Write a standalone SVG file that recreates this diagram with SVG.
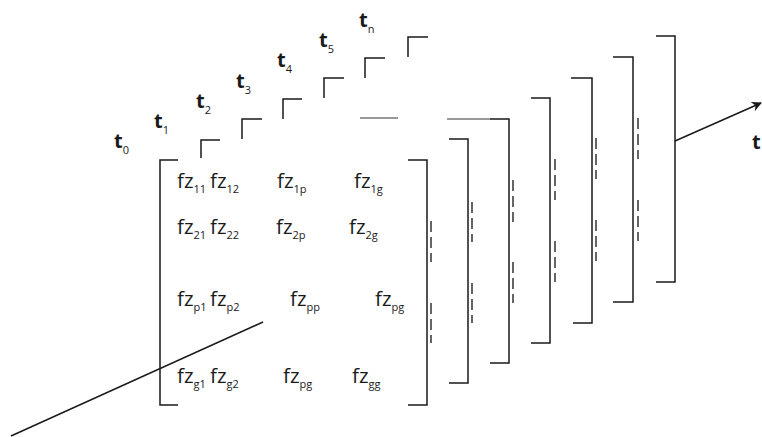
<svg xmlns="http://www.w3.org/2000/svg" width="762" height="437" viewBox="0 0 762 437">
<defs>
<style>
.ln{fill:none;stroke:#1a1a1a;stroke-width:1.5}
.gr{fill:none;stroke:#777;stroke-width:1.5}
.ds{fill:none;stroke:#333;stroke-width:1.5;stroke-dasharray:11 5}
.fz{font-family:"Open Sans","Liberation Sans",sans-serif;font-size:20.5px;fill:#1a1a1a}
.sub{font-size:11px}
.t{font-family:"Open Sans","Liberation Sans",sans-serif;font-size:20px;font-weight:700;fill:#1a1a1a}
.ts{font-size:11px;font-weight:400}
</style>
<marker id="ah" markerWidth="10" markerHeight="10" refX="9" refY="5" orient="auto" markerUnits="userSpaceOnUse" viewBox="0 0 10 10">
<path d="M0,0 L10,5 L0,10 L3,5 Z" fill="#1a1a1a"/>
</marker>
</defs>
<rect width="762" height="437" fill="#fff"/>

<g id="time-labels">
<text class="t" x="114" y="148">t<tspan class="ts" dy="6">0</tspan></text>
<text class="t" x="154" y="128">t<tspan class="ts" dy="6">1</tspan></text>
<text class="t" x="196" y="108">t<tspan class="ts" dy="6">2</tspan></text>
<text class="t" x="236" y="88">t<tspan class="ts" dy="6">3</tspan></text>
<text class="t" x="277" y="67">t<tspan class="ts" dy="6">4</tspan></text>
<text class="t" x="319" y="47">t<tspan class="ts" dy="6">5</tspan></text>
<text class="t" x="359" y="27">t<tspan class="ts" dy="6">n</tspan></text>
<text class="t" x="752" y="149">t</text>
</g>

<g id="frame-corners">
<path class="ln" d="M201,158 V140 H220"/>
<path class="ln" d="M242,139 V119 H262"/>
<path class="ln" d="M283,119 V99 H302"/>
<path class="ln" d="M324,98 V78 H344"/>
<path class="ln" d="M365,78 V58 H385"/>
<path class="ln" d="M408,57 V37 H428"/>
<path class="gr" d="M360,118 H398"/>
</g>

<g id="matrix-t0">
<path class="ln" d="M178,160 H160 V405 H178"/>
<path class="ln" d="M408,160 H427 V405 H408"/>
<path class="ds" d="M431,221 V262 M431,303 V343"/>
<text class="fz" x="177" y="188">fz<tspan class="sub" dy="5">11</tspan></text>
<text class="fz" x="210" y="188">fz<tspan class="sub" dy="5">12</tspan></text>
<text class="fz" x="277" y="188">fz<tspan class="sub" dy="5">1p</tspan></text>
<text class="fz" x="354" y="188">fz<tspan class="sub" dy="5">1g</tspan></text>
<text class="fz" x="177" y="234">fz<tspan class="sub" dy="5">21</tspan></text>
<text class="fz" x="210" y="234">fz<tspan class="sub" dy="5">22</tspan></text>
<text class="fz" x="276" y="234">fz<tspan class="sub" dy="5">2p</tspan></text>
<text class="fz" x="349" y="234">fz<tspan class="sub" dy="5">2g</tspan></text>
<text class="fz" x="177" y="306">fz<tspan class="sub" dy="5">p1</tspan></text>
<text class="fz" x="210" y="306">fz<tspan class="sub" dy="5">p2</tspan></text>
<text class="fz" x="290" y="306">fz<tspan class="sub" dy="5">pp</tspan></text>
<text class="fz" x="375" y="306">fz<tspan class="sub" dy="5">pg</tspan></text>
<text class="fz" x="177" y="383">fz<tspan class="sub" dy="5">g1</tspan></text>
<text class="fz" x="210" y="383">fz<tspan class="sub" dy="5">g2</tspan></text>
<text class="fz" x="283" y="383">fz<tspan class="sub" dy="5">pg</tspan></text>
<text class="fz" x="352" y="383">fz<tspan class="sub" dy="5">gg</tspan></text>
</g>

<g id="matrix-t1">
<path class="ln" d="M449,139 H468 V383 H449"/>
<path class="ds" d="M472,202 V242 M472,283 V323"/>
</g>
<g id="matrix-t2">
<path class="gr" d="M447,119 H490"/>
<path class="ln" d="M490,119 H509 V363 H490"/>
<path class="ds" d="M513,180 V222 M513,262 V303"/>
</g>
<g id="matrix-t3">
<path class="ln" d="M531,98 H550 V343 H531"/>
<path class="ds" d="M555,159 V200 M555,241 V282"/>
</g>
<g id="matrix-t4">
<path class="ln" d="M571,78 H592 V323 H573"/>
<path class="ds" d="M596,138 V179 M596,220 V261"/>
</g>
<g id="matrix-t5">
<path class="ln" d="M613,57 H633 V302 H613"/>
<path class="ds" d="M638,118 V159 M638,200 V241"/>
</g>
<g id="matrix-tn">
<path class="ln" d="M656,36 H675 V282 H656"/>
</g>

<g id="connectors">
<path class="ln" d="M11,436 L263,322"/>
<path class="ln" d="M675,141 L761,103" marker-end="url(#ah)"/>
</g>
</svg>
